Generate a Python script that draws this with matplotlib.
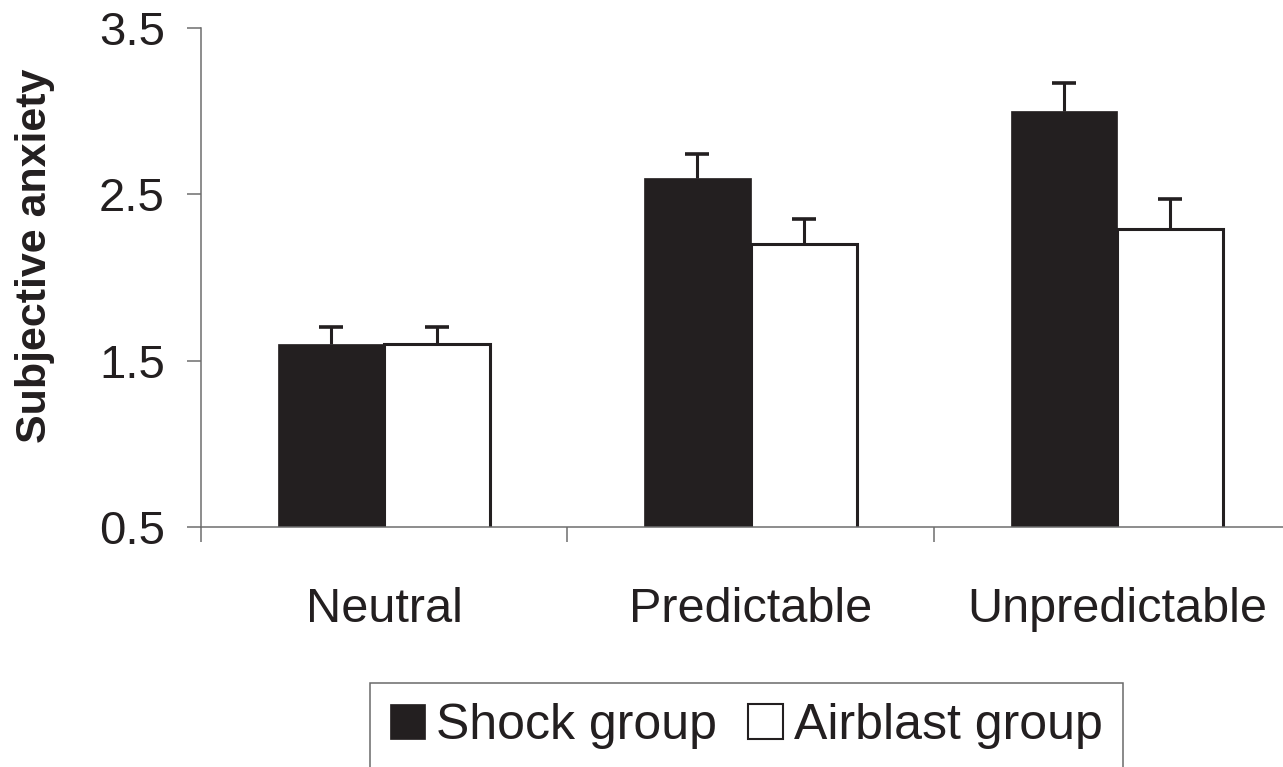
'''
Subjective anxiety by condition, shock vs airblast group
'''
import numpy as np
import matplotlib.pyplot as plt
from matplotlib.patches import Patch

plt.rcParams['font.family'] = ['Liberation Sans', 'DejaVu Sans']

# data
conditions = ['Neutral', 'Predictable', 'Unpredictable']
shock_mean = [1.6, 2.6, 3.0]
shock_se = [0.10, 0.14, 0.17]
airblast_mean = [1.6, 2.2, 2.29]
airblast_se = [0.10, 0.15, 0.18]
y_ticks = [0.5, 1.5, 2.5, 3.5]

ink = '#231f20'
axis_grey = '#6d6d6d'

fig = plt.figure(figsize=(12.83, 7.67), dpi=100)
# axes run past the right edge on purpose (the original is cropped there)
ax = fig.add_axes([0.1567, 0.3129, 0.8566, 0.6506])

x = np.arange(len(conditions))
w = 0.29

ax.bar(x - w / 2, shock_mean, width=w, color=ink, edgecolor=ink, linewidth=0.5, zorder=2)
ax.bar(x + w / 2, airblast_mean, width=w, color='white', edgecolor=ink, linewidth=2.2, zorder=2)

# upper error bars only
for xs, m, se in [(x - w / 2, shock_mean, shock_se), (x + w / 2, airblast_mean, airblast_se)]:
    eb = ax.errorbar(xs, m, yerr=[np.zeros(3), se], fmt='none', ecolor=ink,
                     elinewidth=2.2, capsize=8.5, capthick=2.6, zorder=3)
    eb[1][0].set_visible(False)  # drop the cap sitting on the bar top

ax.set_xlim(-0.5, 2.5)
ax.set_ylim(0.5, 3.5)

# y axis
ax.set_yticks(y_ticks)
ax.set_yticklabels([f'{v:.1f}' for v in y_ticks])
ax.tick_params(axis='y', which='major', direction='out', length=10, width=1.1,
               color=axis_grey, labelsize=34, labelcolor=ink, pad=16)

# x axis: tick marks between groups, labels under the groups
ax.set_xticks([-0.5, 0.5, 1.5, 2.5])
ax.set_xticklabels([])
ax.set_xticks(x, minor=True)
ax.set_xticklabels(conditions, minor=True)
ax.tick_params(axis='x', which='major', direction='out', length=11, width=1.1, color=axis_grey)
ax.tick_params(axis='x', which='minor', length=0, labelsize=35, labelcolor=ink, pad=43)

for s in ['top', 'right']:
    ax.spines[s].set_visible(False)
for s in ['left', 'bottom']:
    ax.spines[s].set_color(axis_grey)
    ax.spines[s].set_linewidth(1.1)

fig.text(35 / 1283, 1 - 256 / 767, 'Subjective anxiety', rotation=90,
         ha='center', va='center', fontsize=31, fontweight='bold', color=ink)

handles = [Patch(facecolor=ink, edgecolor=ink, linewidth=0.5, label='Shock group'),
           Patch(facecolor='white', edgecolor=ink, linewidth=1.5, label='Airblast group')]
leg = fig.legend(handles=handles, loc='upper left', bbox_to_anchor=(370 / 1283, 1 - 683 / 767),
                 ncol=2, fontsize=36, frameon=True, fancybox=False, borderaxespad=0,
                 handlelength=0.7, handleheight=0.7, handletextpad=0.22,
                 columnspacing=0.62, borderpad=0.4)
leg.get_frame().set_edgecolor('#444444')
leg.get_frame().set_linewidth(1.1)
for t in leg.get_texts():
    t.set_color(ink)

fig.savefig('out.png', dpi=100)
